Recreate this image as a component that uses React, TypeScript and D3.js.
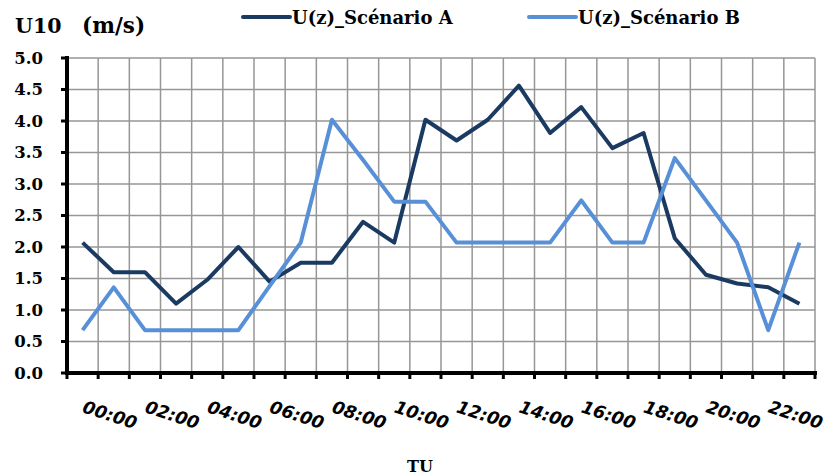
import React from "react";
import * as d3 from "d3";

const hours = ["00:00","01:00","02:00","03:00","04:00","05:00","06:00","07:00","08:00","09:00","10:00","11:00","12:00","13:00","14:00","15:00","16:00","17:00","18:00","19:00","20:00","21:00","22:00","23:00"];
const scenarioA = [2.07,1.6,1.6,1.1,1.48,2.0,1.45,1.75,1.75,2.4,2.07,4.02,3.69,4.02,4.56,3.81,4.22,3.57,3.81,2.14,1.56,1.42,1.36,1.1];
const scenarioB = [0.68,1.36,0.68,0.68,0.68,0.68,1.38,2.07,4.02,3.38,2.72,2.72,2.07,2.07,2.07,2.07,2.74,2.07,2.07,3.41,2.74,2.07,0.68,2.07];
const yTicks = [0,0.5,1,1.5,2,2.5,3,3.5,4,4.5,5];
const seriesNames = ["U(z)_Scénario A","U(z)_Scénario B"];
const colors = ["#1B3A62","#5890D8"];

const W = 825, H = 475;
const left = 67, right = 815, top = 58, bottom = 373;

export default function App() {
  const x = d3.scaleBand<string>().domain(hours).range([left, right]).padding(0);
  const y = d3.scaleLinear().domain([0, 5]).range([bottom, top]);
  const cx = (h: string) => (x(h) as number) + x.bandwidth() / 2;
  const line = d3.line<number>().x((_, i) => cx(hours[i])).y((d) => y(d));
  const bounds = hours.map((h) => x(h) as number).concat([right]);
  const serif = "'DejaVu Serif', serif";
  return (
    <svg width={W} height={H} style={{ position: "absolute", left: 0, top: 0, background: "#fff" }}>
      {/* grid */}
      {yTicks.map((t) => (
        <line key={"gy" + t} x1={left} x2={right} y1={y(t)} y2={y(t)} stroke="#969696" strokeWidth={1.5} />
      ))}
      {bounds.map((b, i) => (
        <line key={"gx" + i} x1={b} x2={b} y1={top} y2={bottom} stroke="#969696" strokeWidth={1.5} />
      ))}
      {/* series */}
      {[scenarioA, scenarioB].map((s, i) => (
        <path key={"s" + i} d={line(s) as string} fill="none" stroke={colors[i]} strokeWidth={4} strokeLinejoin="round" />
      ))}
      {/* axes */}
      <line x1={left} x2={left} y1={top - 2} y2={bottom + 2} stroke="#000" strokeWidth={4} />
      <line x1={left - 2} x2={right + 2} y1={bottom} y2={bottom} stroke="#000" strokeWidth={4} />
      {yTicks.map((t) => (
        <line key={"ty" + t} x1={left - 6} x2={left} y1={y(t)} y2={y(t)} stroke="#000" strokeWidth={3} />
      ))}
      {bounds.map((b, i) => (
        <line key={"tx" + i} x1={b} x2={b} y1={bottom} y2={bottom + 6} stroke="#000" strokeWidth={3} />
      ))}
      {/* y labels */}
      {yTicks.map((t) => (
        <text key={"ly" + t} x={43} y={y(t)} dy="0.36em" textAnchor="end" fontFamily={serif} fontWeight="bold" fontSize={16.5} fill="#000">
          {t.toFixed(1)}
        </text>
      ))}
      {/* x labels */}
      {hours.map((h, i) =>
        i % 2 === 0 ? (
          <text key={"lx" + h} transform={`translate(${cx(h) - 1},${412}) rotate(18)`} textAnchor="start" fontFamily="'DejaVu Sans', sans-serif" fontWeight="bold" fontStyle="italic" fontSize={17.5} fill="#000">
            {h}
          </text>
        ) : null
      )}
      {/* title */}
      <text x={15} y={33} fontFamily={serif} fontWeight="bold" fontSize={20.5} fill="#000">U10</text>
      <text x={82} y={33} fontFamily={serif} fontWeight="bold" fontSize={21.5} fill="#000">(m/s)</text>
      {/* legend */}
      {seriesNames.map((n, i) => {
        const lx = i === 0 ? 243 : 529;
        return (
          <g key={"lg" + i}>
            <line x1={lx} x2={lx + 47} y1={17} y2={17} stroke={colors[i]} strokeWidth={4} strokeLinecap="round" />
            <text x={lx + 49} y={24} fontFamily={serif} fontWeight="bold" fontSize={18} fill="#000">{n}</text>
          </g>
        );
      })}
      {/* x title */}
      <text x={420} y={472} textAnchor="middle" fontFamily={serif} fontWeight="bold" fontSize={16} fill="#000">TU</text>
    </svg>
  );
}
